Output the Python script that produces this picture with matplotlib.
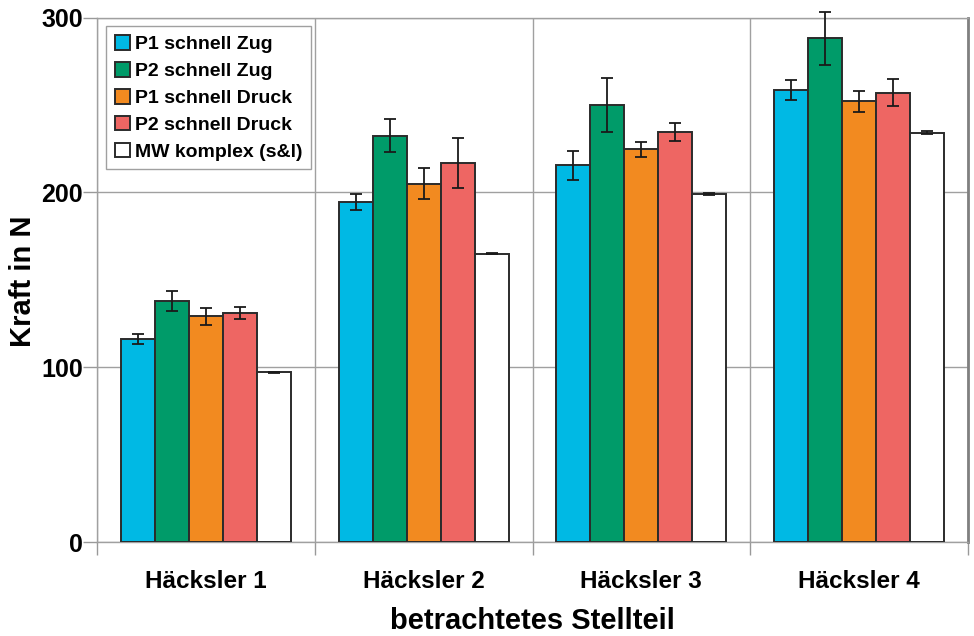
import matplotlib.pyplot as plt
import numpy as np

plt.rcParams['font.family'] = ['Liberation Sans', 'DejaVu Sans']
plt.rcParams['font.weight'] = 'bold'

kategorien = ['Häcksler 1', 'Häcksler 2', 'Häcksler 3', 'Häcksler 4']
serien = ['P1 schnell Zug', 'P2 schnell Zug', 'P1 schnell Druck',
          'P2 schnell Druck', 'MW komplex (s&l)']
p1_zug = [116, 194.5, 215.5, 258.5]
p2_zug = [138, 232.5, 250, 288]
p1_druck = [129, 205, 224.5, 252]
p2_druck = [131, 216.5, 234.5, 257]
mw_komplex = [97, 165, 199, 234]
p1_zug_err = [3, 4.6, 8.4, 5.5]
p2_zug_err = [5.6, 9.6, 15.4, 15.4]
p1_druck_err = [5, 9, 4.4, 6]
p2_druck_err = [3.4, 14.3, 5.2, 7.6]
mw_komplex_err = [0.5, 0.5, 0.8, 0.8]

werte = [p1_zug, p2_zug, p1_druck, p2_druck, mw_komplex]
fehler = [p1_zug_err, p2_zug_err, p1_druck_err, p2_druck_err, mw_komplex_err]
farben = ['#00b9e4', '#009b69', '#f28a20', '#ee6663', '#ffffff']

fig = plt.figure(figsize=(9.74, 6.36), dpi=100)
ax = fig.add_axes([97 / 974, (636 - 542) / 636, 871 / 974, 524.5 / 636])

x = np.arange(len(kategorien))
w = 0.156
for i, (name, v, e, c) in enumerate(zip(serien, werte, fehler, farben)):
    ax.bar(x + (i - 2) * w, v, w, color=c, edgecolor='#2b2b2b', linewidth=1.4,
           label=name, zorder=3)
    eb = ax.errorbar(x + (i - 2) * w, v, yerr=e, fmt='none', ecolor='#1a1a1a',
                     elinewidth=1.3, capsize=4.5, capthick=1.3, zorder=4)
    for art in eb.lines[1] + eb.lines[2]:
        art.set_clip_on(False)

ax.set_xlim(-0.5, 3.5)
ax.set_ylim(0, 300)
ax.set_yticks([0, 100, 200, 300])
ax.set_xticks(x)
ax.set_xticklabels(kategorien, fontsize=17.5, fontweight='bold')
ax.set_xticks(np.arange(-0.5, 4, 1), minor=True)
ax.tick_params(axis='x', which='major', length=0, pad=20)
ax.tick_params(axis='x', which='minor', length=9, color='#999999', width=1)
ax.tick_params(axis='y', length=10, color='#999999', width=1, labelsize=18, pad=0)
for lab in ax.get_yticklabels():
    lab.set_fontweight('bold')
ax.grid(axis='y', which='major', color='#a0a0a0', linewidth=1, zorder=0)
ax.grid(axis='x', which='minor', color='#a0a0a0', linewidth=1, zorder=0)

for s in ['left', 'top', 'bottom']:
    ax.spines[s].set_color('#a0a0a0')
    ax.spines[s].set_linewidth(1)
ax.spines['right'].set_color('#808080')
ax.spines['right'].set_linewidth(2)

ax.set_ylabel('Kraft in N', fontsize=21, fontweight='bold')
ax.yaxis.set_label_coords(-0.069, 0.498)
ax.set_xlabel('betrachtetes Stellteil', fontsize=21, fontweight='bold')
ax.xaxis.set_label_coords(0.5, -0.123)

leg = ax.legend(loc='upper left', bbox_to_anchor=(9 / 871, 1 - 8.5 / 524.5),
                borderaxespad=0, fontsize=14, fancybox=False, framealpha=1,
                edgecolor='#a0a0a0', handlelength=0.8, handleheight=0.8,
                handletextpad=0.25, labelspacing=0.45, borderpad=0.45)
leg.get_frame().set_linewidth(1)
for t in leg.get_texts():
    t.set_fontweight('bold')

plt.savefig('out.png', dpi=100)
